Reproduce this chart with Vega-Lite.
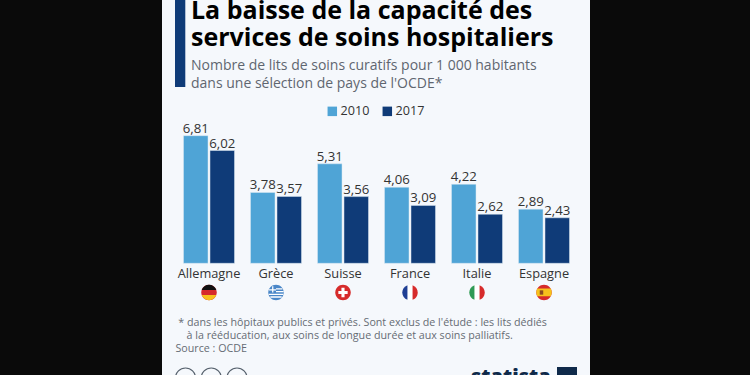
{
"$schema":"https://vega.github.io/schema/vega-lite/v6.json",
"width":428,"height":375,
"autosize":{"type":"none"},
"padding":{"left":162,"right":160,"top":0,"bottom":0},
"background":"#0a0a0a",
"view":{"fill":"#f5f8fc","stroke":null},
"config":{"locale":{"number":{"decimal":",","thousands":" ","grouping":[3],"currency":["","€"]}}},
"title":{"text":["La baisse de la capacité des","services de soins hospitaliers"],
"subtitle":["Nombre de lits de soins curatifs pour 1 000 habitants","dans une sélection de pays de l'OCDE*"],
"anchor":"start","frame":"group","align":"left","dx":29,"offset":-91,
"font":"Open Sans","fontSize":25,"fontWeight":700,"color":"#000000","lineHeight":27,
"subtitleFont":"Open Sans","subtitleFontSize":14,"subtitleColor":"#5f6670","subtitleLineHeight":18,"subtitlePadding":8},
"datasets":{
"lits":[
{"pays":"Allemagne","annee":"2010","lits":6.81},{"pays":"Allemagne","annee":"2017","lits":6.02},
{"pays":"Grèce","annee":"2010","lits":3.78},{"pays":"Grèce","annee":"2017","lits":3.57},
{"pays":"Suisse","annee":"2010","lits":5.31},{"pays":"Suisse","annee":"2017","lits":3.56},
{"pays":"France","annee":"2010","lits":4.06},{"pays":"France","annee":"2017","lits":3.09},
{"pays":"Italie","annee":"2010","lits":4.22},{"pays":"Italie","annee":"2017","lits":2.62},
{"pays":"Espagne","annee":"2010","lits":2.89},{"pays":"Espagne","annee":"2017","lits":2.43}],
"drapeaux":[
{"pays":"Allemagne","forme":"disque","teinte":"rouge"},{"pays":"Allemagne","forme":"haut","teinte":"noir"},{"pays":"Allemagne","forme":"bas","teinte":"jaune"},
{"pays":"Grèce","forme":"disque","teinte":"bleu clair"},{"pays":"Grèce","forme":"rayures","teinte":"blanc"},
{"pays":"Suisse","forme":"disque","teinte":"rouge"},{"pays":"Suisse","forme":"croix","teinte":"blanc"},
{"pays":"France","forme":"disque","teinte":"blanc"},{"pays":"France","forme":"gauche","teinte":"bleu"},{"pays":"France","forme":"droite","teinte":"rouge"},
{"pays":"Italie","forme":"disque","teinte":"blanc"},{"pays":"Italie","forme":"gauche","teinte":"vert"},{"pays":"Italie","forme":"droite","teinte":"rouge"},
{"pays":"Espagne","forme":"disque","teinte":"rouge"},{"pays":"Espagne","forme":"centre","teinte":"jaune"},{"pays":"Espagne","forme":"bloc","teinte":"brun"}]
},
"layer":[
{"data":{"name":"lits"},"mark":{"type":"bar","stroke":"#dbe8f3","strokeWidth":0.5},
"encoding":{
"x":{"field":"pays","type":"nominal","sort":null,"scale":{"type":"band","domain":["Allemagne","Grèce","Suisse","France","Italie","Espagne"],"range":[21.5,407.5],"paddingInner":0.239,"paddingOuter":0},
"axis":{"title":["\u200b\u00a0* dans les hôpitaux publics et privés. Sont exclus de l'étude : les lits dédiés","\u200b\u00a0\u00a0\u00a0\u00a0à la rééducation, aux soins de longue durée et aux soins palliatifs.","Source : OCDE"],
"titleFont":"Open Sans","titleFontSize":10.7,"titleFontWeight":400,"titleColor":"#666c74","titleAnchor":"start","titleAlign":"left","titleBaseline":"alphabetic","titleLineHeight":13,"titleX":13,"titleY":62.5,
"orient":"bottom","offset":-111.7,"domain":false,"ticks":false,"grid":false,"labelAngle":0,"labelFont":"Open Sans","labelFontSize":12.8,"labelColor":"#333333","labelPadding":4.5}},
"xOffset":{"field":"annee","type":"nominal","scale":{"domain":["2010","2017"],"paddingInner":0.075,"paddingOuter":0}},
"y":{"field":"lits","type":"quantitative","scale":{"domain":[0,6.81],"range":[263.3,135.7],"nice":false,"zero":true},"axis":null},
"color":{"field":"annee","type":"nominal","scale":{"domain":["2010","2017"],"range":["#4fa4d6","#0f3b78"]},
"legend":{"title":null,"orient":"none","legendX":164,"legendY":105,"direction":"horizontal","symbolType":"square","symbolSize":90,"symbolStrokeWidth":0,"labelFont":"Open Sans","labelFontSize":12.6,"labelColor":"#333333","columnPadding":11,"labelOffset":2}}}},
{"data":{"name":"lits"},"mark":{"type":"text","font":"Open Sans","fontSize":13.2,"color":"#333333","baseline":"alphabetic","dy":-3},
"encoding":{
"x":{"field":"pays","type":"nominal","sort":null,"scale":{"type":"band","domain":["Allemagne","Grèce","Suisse","France","Italie","Espagne"],"range":[21.5,407.5],"paddingInner":0.239,"paddingOuter":0},"axis":null},
"xOffset":{"field":"annee","type":"nominal","scale":{"domain":["2010","2017"],"paddingInner":0.075,"paddingOuter":0}},
"y":{"field":"lits","type":"quantitative","scale":{"domain":[0,6.81],"range":[263.3,135.7],"nice":false,"zero":true},"axis":null},
"text":{"field":"lits","type":"quantitative","format":".2f"}}},
{"data":{"name":"drapeaux"},"mark":{"type":"point","filled":true,"size":240,"opacity":1},
"encoding":{
"x":{"field":"pays","type":"nominal","sort":null,"scale":{"type":"band","domain":["Allemagne","Grèce","Suisse","France","Italie","Espagne"],"range":[21.5,407.5],"paddingInner":0.239,"paddingOuter":0},"axis":null},
"y":{"datum":-1.558,"type":"quantitative","scale":{"domain":[0,6.81],"range":[263.3,135.7],"nice":false,"zero":true},"axis":null},
"shape":{"field":"forme","type":"nominal","legend":null,"scale":{"domain":["disque","haut","bas","gauche","droite","centre","bloc","croix","rayures"],
"range":["M-1,0A1,1 0 1,1 1,0A1,1 0 1,1 -1,0Z",
"M-.943,-.333A1,1 0 0,1 .943,-.333Z",
"M-.943,.333L.943,.333A1,1 0 0,1 -.943,.333Z",
"M-.333,-.943A1,1 0 0,0 -.333,.943Z",
"M.333,-.943A1,1 0 0,1 .333,.943Z",
"M-.866,-.5L.866,-.5A1,1 0 0,1 .866,.5L-.866,.5A1,1 0 0,1 -.866,-.5Z",
"M-.55,-.28H-.1V.28H-.55Z",
"M-.2,-.6H.2V-.2H.6V.2H.2V.6H-.2V.2H-.6V-.2H-.2Z",
"M-.94,.15H.94V.33H-.94ZM-.73,.5H.73V.68H-.73ZM0,-.55H.83V-.38H0ZM0,-.2H.98V-.02H0ZM-.9,-.42H0V-.26H-.9ZM-.5,-.8H-.34V0H-.5Z"]}},
"color":{"field":"teinte","type":"nominal","legend":null,"scale":{"domain":["rouge","noir","jaune","bleu clair","blanc","bleu","vert","brun"],"range":["#d62b2b","#111111","#f6c21c","#4a87c8","#ffffff","#1f3f94","#2f9a55","#8a4b20"]}}}},
{"mark":{"type":"rect","color":"#0f3b78"},"data":{"values":[{"decor":"filet"}]},
"encoding":{
"x":{"datum":175,"type":"quantitative","scale":{"domain":[162,590],"range":[0,428],"nice":false,"zero":false},"axis":null},
"x2":{"datum":185.3},
"y":{"datum":0,"type":"quantitative","scale":{"domain":[0,375],"range":[0,375],"nice":false,"zero":false},"axis":null},
"y2":{"datum":87}}},
{"mark":{"type":"point","filled":false,"size":400,"stroke":"#55606c","strokeWidth":1.2,"opacity":1},"data":{"values":[{"icone":"cc"},{"icone":"by"},{"icone":"nd"}]},
"encoding":{
"x":{"field":"icone","type":"nominal","sort":null,"scale":{"type":"point","domain":["cc","by","nd"],"range":[23.5,75],"padding":0},"axis":null},
"y":{"datum":378,"type":"quantitative","scale":{"domain":[0,375],"range":[0,375],"nice":false,"zero":false},"axis":null}}},
{"mark":{"type":"text","font":"Open Sans","fontWeight":800,"fontSize":20,"color":"#0f2a4a","align":"left","baseline":"alphabetic","text":"statista"},"data":{"values":[{"decor":"logo"}]},
"encoding":{
"x":{"datum":471,"type":"quantitative","scale":{"domain":[162,590],"range":[0,428],"nice":false,"zero":false},"axis":null},
"y":{"datum":383,"type":"quantitative","scale":{"domain":[0,375],"range":[0,375],"nice":false,"zero":false},"axis":null}}},
{"mark":{"type":"rect","color":"#0f2a4a"},"data":{"values":[{"decor":"logo"}]},
"encoding":{
"x":{"datum":557,"type":"quantitative","scale":{"domain":[162,590],"range":[0,428],"nice":false,"zero":false},"axis":null},
"x2":{"datum":577},
"y":{"datum":367,"type":"quantitative","scale":{"domain":[0,375],"range":[0,375],"nice":false,"zero":false},"axis":null},
"y2":{"datum":375}}}
],
"resolve":{"scale":{"x":"independent","y":"independent","color":"independent","shape":"independent"},"axis":{"x":"independent","y":"independent"}}
}
